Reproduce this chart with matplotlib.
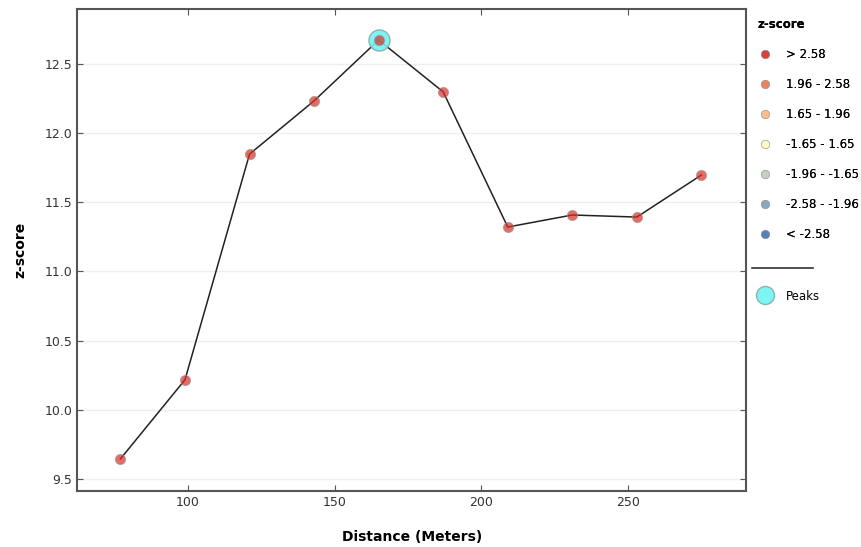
import matplotlib.pyplot as plt
from matplotlib.lines import Line2D

distance = [77, 99, 121, 143, 165, 187, 209, 231, 253, 275]
zscore = [9.645, 10.217, 11.848, 12.233, 12.673, 12.298, 11.321, 11.408, 11.393, 11.697]
peak_x = [165]
peak_y = [12.673]

bins = ['> 2.58', '1.96 - 2.58', '1.65 - 1.96', '-1.65 - 1.65',
        '-1.96 - -1.65', '-2.58 - -1.96', '< -2.58']
bin_colors = ['#d62f27', '#ed7551', '#fab984', '#ffffbf', '#c0ccbe', '#849eba', '#4575b5']


def main():
    fig = plt.figure(figsize=(8.62, 5.47), dpi=100)
    ax = fig.add_axes([77 / 862, 1 - 491 / 547, 669 / 862, 482 / 547])

    ax.plot(distance, zscore, color='#222222', lw=1.1, zorder=2)
    ax.scatter(peak_x, peak_y, s=230, color='#6ff4f4', edgecolor='#8aa', lw=1, alpha=0.9, zorder=3)
    ax.scatter(distance, zscore, s=55, color=bin_colors[0], edgecolor='#999999', lw=0.6, alpha=0.7, zorder=4)

    ax.set_xlim(62.2, 290.2)
    ax.set_ylim(9.413, 12.897)
    ax.set_xticks([100, 150, 200, 250])
    ax.set_yticks([9.5, 10.0, 10.5, 11.0, 11.5, 12.0, 12.5])
    ax.yaxis.grid(True, color='#eeeeee', lw=1)
    ax.set_axisbelow(True)
    ax.tick_params(direction='in', top=True, right=True, length=4, color='#555555',
                   labelsize=9, labelcolor='#333333')
    for s in ax.spines.values():
        s.set_color('#555555')
        s.set_linewidth(1.5)

    fig.text(20 / 862, 1 - 250 / 547, 'z-score', rotation=90, fontsize=10, fontweight='bold',
             ha='center', va='center')
    fig.text(412 / 862, 1 - 537 / 547, 'Distance (Meters)', fontsize=10, fontweight='bold',
             ha='center', va='center')

    handles = [Line2D([], [], ls='none', marker='o', ms=6, mfc=c, mec='#999999', mew=0.5, alpha=0.7)
               for c in bin_colors]
    leg = fig.legend(handles, bins, loc='upper left', bbox_to_anchor=(747 / 862, 1 - 7 / 547),
                     frameon=False, fontsize=8.5, title='z-score',
                     title_fontproperties={'weight': 'bold', 'size': 8.5},
                     labelspacing=1.45, handlelength=1.2, handletextpad=1.2, alignment='left')
    fig.add_artist(leg)

    fig.add_artist(Line2D([752 / 862, 813 / 862], [1 - 268 / 547, 1 - 268 / 547], color='#333333', lw=1.2))

    peak_handle = Line2D([], [], ls='none', marker='o', ms=13, mfc='#6ff4f4', mec='#8aa', alpha=0.9)
    fig.legend([peak_handle], ['Peaks'], loc='center left', bbox_to_anchor=(747 / 862, 1 - 296 / 547),
               frameon=False, fontsize=8.5, handlelength=1.2, handletextpad=1.2)

    fig.savefig('out.png', dpi=100)


if __name__ == "__main__":
    main()
